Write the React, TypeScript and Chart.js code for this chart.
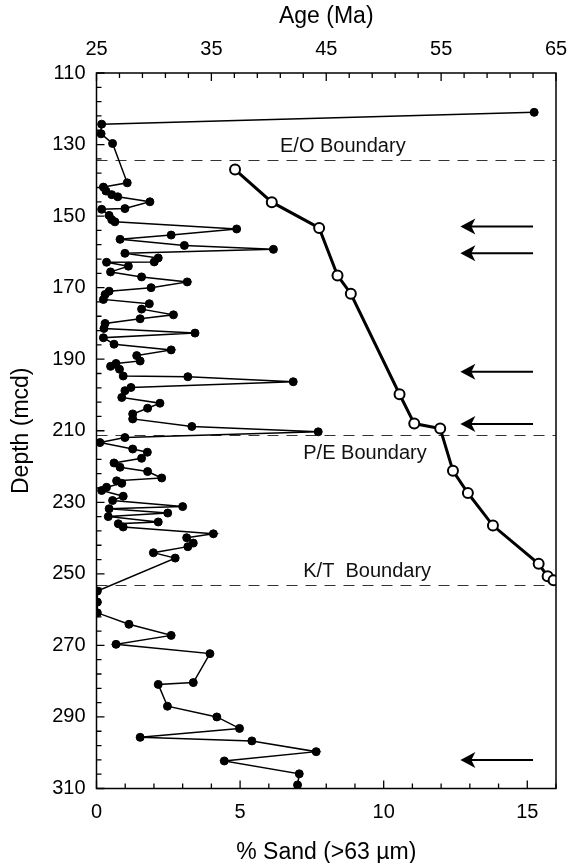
import React, { useEffect, useRef } from 'react';
import { Chart, registerables } from 'chart.js';

Chart.register(...registerables);

// ---- data ----
const sandDepth = [
  121.0, 124.3, 127.0, 129.7, 140.7, 141.9, 143.0, 144.0, 144.6, 146.0,
  147.9, 148.1, 149.8, 151.0, 151.6, 153.6, 155.3, 156.5, 158.2, 159.3,
  160.4, 161.7, 162.8, 162.9, 164.0, 165.6, 167.0, 168.4, 170.0, 171.0,
  171.9, 173.3, 174.5, 176.0, 177.6, 178.7, 180.0, 181.4, 182.7, 184.0,
  185.8, 187.4, 189.0, 190.5, 191.2, 192.0, 192.8, 194.7, 194.9, 196.3,
  197.9, 198.8, 200.7, 202.3, 203.7, 205.3, 206.7, 208.8, 210.3, 211.9,
  213.3, 215.1, 216.0, 217.7, 219.0, 220.2, 221.4, 223.2, 224.0, 224.7,
  225.8, 226.7, 228.3, 229.5, 231.2, 231.8, 233.0, 234.0, 235.5, 236.0,
  236.9, 238.8, 239.9, 241.4, 242.4, 244.1, 245.6, 254.8, 257.9, 260.9,
  264.1, 267.2, 269.7, 272.3, 280.4, 280.9, 287.0, 290.0, 293.2, 295.7,
  296.7, 299.7, 302.3, 305.9, 309.0,
];
const sandPct = [
  15.24, 0.18, 0.16, 0.56, 1.07, 0.24, 0.33, 0.53, 0.74, 1.86,
  0.99, 0.18, 0.44, 0.53, 0.64, 4.88, 2.6, 0.82, 3.06, 6.16,
  0.99, 2.15, 2.01, 0.35, 1.11, 0.49, 1.57, 3.16, 1.9, 0.44,
  0.3, 0.24, 1.84, 1.57, 2.68, 1.52, 0.3, 0.26, 3.43, 0.24,
  0.61, 2.6, 1.4, 1.52, 0.68, 0.49, 0.8, 0.93, 3.18, 6.85,
  1.2, 0.99, 0.88, 2.21, 1.78, 1.26, 1.26, 3.32, 7.72, 0.99,
  0.12, 1.26, 1.77, 1.57, 0.61, 0.82, 1.78, 2.27, 0.7, 0.88,
  0.35, 0.18, 0.93, 0.56, 3.0, 0.44, 2.48, 0.41, 2.15, 0.76,
  0.93, 4.07, 3.14, 3.37, 3.18, 1.98, 2.74, 0.03, 0.03, 0.03,
  1.13, 2.6, 0.68, 3.95, 3.37, 2.15, 2.47, 4.19, 4.98, 1.52,
  5.41, 7.65, 4.45, 7.06, 7.0,
];
const ageDepth = [137.0, 146.1, 153.3, 166.6, 171.7, 199.8, 208.0, 209.4, 221.2, 227.4, 236.5, 247.2, 250.7, 251.8];
const ageMa = [37.06, 40.26, 44.38, 45.98, 47.14, 51.38, 52.66, 54.92, 56.03, 57.33, 59.51, 63.49, 64.27, 64.79];

const boundaryDepth = [134.2, 211.3, 253.2];
const boundaryLabel = ['E/O Boundary', 'P/E Boundary', 'K/T  Boundary'];
const boundaryLabelX = [6.39, 7.2, 7.2]; // in % sand units
const boundaryLabelDy = [-8, 24, -8]; // baseline offset from line, px

const arrowDepth = [152.9, 160.4, 193.5, 208.1, 302.0];
const arrowTail = 15.2;
const arrowTip = 12.67;

// axes
const depthMin = 110, depthMax = 310, depthMajor = 20, depthMinor = 4;
const sandMin = 0, sandMax = 16, sandMajor = 5, sandMinor = 1;
const ageMin = 25, ageMax = 65, ageMajor = 10, ageMinor = 2;

const FONT = "'Liberation Sans', Arial, Helvetica, sans-serif";

export default function App() {
  const ref = useRef<HTMLCanvasElement>(null);

  useEffect(() => {
    const canvas = ref.current;
    if (!canvas) return;

    const decor = {
      id: 'decor',
      beforeDatasetsDraw(chart: any) {
        const { ctx, chartArea: a, scales } = chart;
        const x = scales.x, y = scales.y;
        ctx.save();
        ctx.strokeStyle = '#333';
        ctx.lineWidth = 1;
        ctx.setLineDash([11, 8]);
        boundaryDepth.forEach((d) => {
          const py = Math.round(y.getPixelForValue(d)) + 0.5;
          ctx.beginPath();
          ctx.moveTo(a.left, py);
          ctx.lineTo(a.right, py);
          ctx.stroke();
        });
        ctx.setLineDash([]);
        ctx.fillStyle = '#111';
        ctx.font = `20px ${FONT}`;
        ctx.textAlign = 'left';
        ctx.textBaseline = 'alphabetic';
        boundaryDepth.forEach((d, i) => {
          ctx.fillText(
            boundaryLabel[i],
            x.getPixelForValue(boundaryLabelX[i]),
            y.getPixelForValue(d) + boundaryLabelDy[i]
          );
        });
        ctx.restore();
      },
      afterDraw(chart: any) {
        const { ctx, chartArea: a, scales } = chart;
        const x = scales.x, x2 = scales.x2, y = scales.y;
        ctx.save();
        // frame
        ctx.strokeStyle = '#000';
        ctx.lineWidth = 1.5;
        ctx.strokeRect(a.left, a.top, a.right - a.left, a.bottom - a.top);
        // ticks
        ctx.lineWidth = 1.3;
        ctx.beginPath();
        for (let v = sandMin; v <= sandMax + 1e-9; v += sandMinor) {
          const px = x.getPixelForValue(v);
          const len = Math.abs(v % sandMajor) < 1e-6 ? 8 : 5;
          ctx.moveTo(px, a.bottom);
          ctx.lineTo(px, a.bottom - len);
        }
        for (let v = ageMin; v <= ageMax + 1e-9; v += ageMinor) {
          const px = x2.getPixelForValue(v);
          const len = Math.abs((v - ageMin) % ageMajor) < 1e-6 ? 8 : 5;
          ctx.moveTo(px, a.top);
          ctx.lineTo(px, a.top + len);
        }
        for (let v = depthMin; v <= depthMax + 1e-9; v += depthMinor) {
          const py = y.getPixelForValue(v);
          const len = Math.abs((v - depthMin) % depthMajor) < 1e-6 ? 8 : 5;
          ctx.moveTo(a.left, py);
          ctx.lineTo(a.left + len, py);
        }
        ctx.stroke();
        // arrows
        ctx.lineWidth = 2;
        ctx.fillStyle = '#000';
        arrowDepth.forEach((d) => {
          const py = y.getPixelForValue(d);
          const tip = x.getPixelForValue(arrowTip);
          const tail = x.getPixelForValue(arrowTail);
          ctx.beginPath();
          ctx.moveTo(tail, py);
          ctx.lineTo(tip + 8, py);
          ctx.stroke();
          ctx.beginPath();
          ctx.moveTo(tip, py);
          ctx.lineTo(tip + 15, py - 8);
          ctx.lineTo(tip + 11, py);
          ctx.lineTo(tip + 15, py + 8);
          ctx.closePath();
          ctx.fill();
        });
        // titles
        ctx.fillStyle = '#000';
        ctx.font = `23px ${FONT}`;
        ctx.textAlign = 'center';
        ctx.textBaseline = 'middle';
        const cx = (a.left + a.right) / 2;
        ctx.fillText('Age (Ma)', cx, 17);
        ctx.fillText('% Sand (>63 \u00b5m)', cx, 853);
        ctx.translate(22, (a.top + a.bottom) / 2);
        ctx.rotate(-Math.PI / 2);
        ctx.fillText('Depth (mcd)', 0, 0);
        ctx.restore();
      },
    };

    const tickFont = { family: FONT, size: 20 };

    const chart = new Chart(canvas, {
      type: 'scatter',
      data: {
        datasets: [
          {
            label: 'Sand',
            data: sandDepth.map((d, i) => ({ x: sandPct[i], y: d })),
            xAxisID: 'x',
            yAxisID: 'y',
            showLine: true,
            borderColor: '#000',
            borderWidth: 1.5,
            pointRadius: 4,
            pointBorderWidth: 1,
            pointBackgroundColor: '#000',
            pointBorderColor: '#000',
          },
          {
            label: 'Age',
            data: ageDepth.map((d, i) => ({ x: ageMa[i], y: d })),
            xAxisID: 'x2',
            yAxisID: 'y',
            showLine: true,
            borderColor: '#000',
            borderWidth: 3,
            pointRadius: 5,
            pointBorderWidth: 2,
            pointBackgroundColor: '#fff',
            pointBorderColor: '#000',
          },
        ],
      },
      options: {
        animation: false,
        responsive: false,
        maintainAspectRatio: false,
        layout: { padding: { left: 0, right: 12, top: 0, bottom: 0 } },
        plugins: { legend: { display: false }, tooltip: { enabled: false } },
        scales: {
          x: {
            type: 'linear',
            position: 'bottom',
            min: sandMin,
            max: sandMax,
            grid: { display: false, drawTicks: false },
            border: { display: false },
            ticks: { stepSize: sandMajor, includeBounds: false, color: '#000', font: tickFont, padding: 12, maxRotation: 0 },
            afterFit: (s: any) => { s.height = 74.5; s.paddingLeft = 0; s.paddingRight = 0; },
          },
          x2: {
            type: 'linear',
            position: 'top',
            min: ageMin,
            max: ageMax,
            grid: { display: false, drawTicks: false },
            border: { display: false },
            ticks: { stepSize: ageMajor, color: '#000', font: tickFont, padding: 12, maxRotation: 0 },
            afterFit: (s: any) => { s.height = 73; s.paddingLeft = 0; s.paddingRight = 0; },
          },
          y: {
            type: 'linear',
            position: 'left',
            reverse: true,
            min: depthMin,
            max: depthMax,
            grid: { display: false, drawTicks: false },
            border: { display: false },
            ticks: { stepSize: depthMajor, color: '#000', font: tickFont, padding: 11 },
            afterFit: (s: any) => { s.width = 96.5; s.paddingTop = 0; s.paddingBottom = 0; },
          },
        },
      },
      plugins: [decor],
    } as any);

    return () => chart.destroy();
  }, []);

  return (
    <div style={{ position: 'absolute', left: 0, top: 0, width: 568, height: 863, background: '#fff' }}>
      <canvas ref={ref} width={568} height={863} style={{ display: 'block' }} />
    </div>
  );
}
